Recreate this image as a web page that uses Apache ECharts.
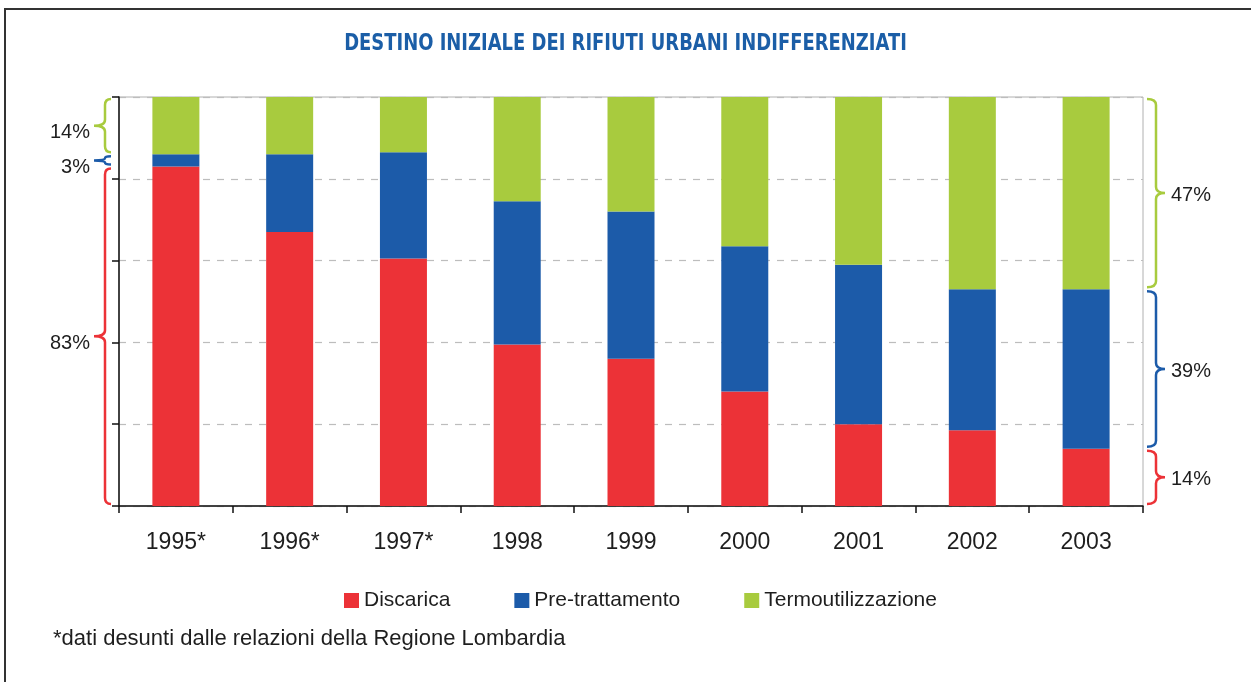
<!DOCTYPE html>
<html><head><meta charset="utf-8">
<script src="https://cdn.jsdelivr.net/npm/echarts@6/dist/echarts.min.js"></script>
<style>html,body{margin:0;padding:0;background:#fff}#c{width:1251px;height:682px}</style>
</head><body><div id="c"></div>
<script>
const titleText = 'DESTINO INIZIALE DEI RIFIUTI URBANI INDIFFERENZIATI';
const footnote = '*dati desunti dalle relazioni della Regione Lombardia';
const categories = ['1995*','1996*','1997*','1998','1999','2000','2001','2002','2003'];
const seriesNames = ['Discarica','Pre-trattamento','Termoutilizzazione'];
const discarica = [83, 67, 60.5, 39.5, 36, 28, 20, 18.5, 14];
const pretrattamento = [3, 19, 26, 35, 36, 35.5, 39, 34.5, 39];
const termo = [14, 14, 13.5, 25.5, 28, 36.5, 41, 47, 47];
const colors = ['#EC3237', '#1C5BA9', '#A8CB3E'];

const allSeries = [discarica, pretrattamento, termo];
// braces: first category on the left, last on the right
const braceData = [];
[[0, -1], [categories.length - 1, 1]].forEach(([ci, side]) => {
  let cum = 0;
  allSeries.forEach((arr, si) => {
    braceData.push([ci, cum, cum + arr[ci], side, si, arr[ci]]);
    cum += arr[ci];
  });
});

const chart = echarts.init(document.getElementById('c'), null, {renderer: 'canvas'});
const FONT = '"Liberation Sans", Arial, sans-serif';

function renderBrace(params, api) {
  const cat = api.value(0), lo = api.value(1), hi = api.value(2), side = api.value(3), si = api.value(4), v = api.value(5);
  const band = api.size([1, 0])[0];
  const cLo = api.coord([cat, lo]);
  const cHi = api.coord([cat, hi]);
  const axisX = cLo[0] + side * band / 2;
  const yB = cLo[1] - 2, yT = cHi[1] + 2;
  let xe, xs, xt;
  if (side < 0) { xe = axisX - 8; xs = axisX - 14; xt = axisX - 25; }
  else { xe = axisX + 4; xs = axisX + 13; xt = axisX + 22; }
  const ym = (yT + yB) / 2;
  const r = Math.min(6, (yB - yT) / 4);
  const d = `M${xe},${yT} Q${xs},${yT} ${xs},${yT + r} L${xs},${ym - r} Q${xs},${ym} ${xt},${ym} Q${xs},${ym} ${xs},${ym + r} L${xs},${yB - r} Q${xs},${yB} ${xe},${yB}`;
  return {
    type: 'group',
    children: [
      {type: 'path', shape: {pathData: d}, style: {stroke: colors[si], fill: null, lineWidth: 2.5}},
      {type: 'text', style: {text: Math.round(v) + '%', x: side < 0 ? xt - 4 : xt + 6, y: ym + (side < 0 ? 7 : 2),
        align: side < 0 ? 'right' : 'left', verticalAlign: 'middle', fill: '#1e1e1e', font: '20px ' + FONT}}
    ]
  };
}

const option = {
  animation: false,
  backgroundColor: '#ffffff',
  title: [
    {text: footnote, left: 48, top: 623,
     textStyle: {fontFamily: FONT, fontWeight: 'normal', fontSize: 22, color: '#1e1e1e'}}
  ],
  graphic: [
    {type: 'rect', shape: {x: 5, y: 9, width: 1400, height: 900}, style: {fill: null, stroke: '#333', lineWidth: 2}, silent: true},
    {type: 'text', x: 625.5, y: 44, scaleX: 0.78, silent: true,
     style: {text: titleText, x: 0, y: 0, align: 'center', verticalAlign: 'middle', fill: '#1B5EA7',
       font: 'bold 23px "DejaVu Sans", sans-serif'}}
  ],
  legend: {
    data: seriesNames, left: 339, top: 585, itemWidth: 15, itemHeight: 15, itemGap: 64, icon: 'rect',
    textStyle: {fontFamily: FONT, fontSize: 21, color: '#1e1e1e'}
  },
  grid: {left: 119, right: 108, top: 97, bottom: 176, show: true, borderColor: '#b0b0b0', borderWidth: 1},
  xAxis: {
    type: 'category', data: categories,
    axisLine: {lineStyle: {color: '#111', width: 1.5}},
    axisTick: {show: true, interval: 0, length: 7, lineStyle: {color: '#111', width: 1.5}},
    axisLabel: {fontFamily: FONT, fontSize: 23, color: '#1e1e1e', margin: 25}
  },
  yAxis: {
    type: 'value', min: 0, max: 100, interval: 20,
    axisLine: {show: true, lineStyle: {color: '#111', width: 1.5}},
    axisTick: {show: true, length: 7, lineStyle: {color: '#111', width: 1.5}},
    axisLabel: {show: false},
    splitLine: {show: true, lineStyle: {color: '#bdbdbd', type: [7, 7], width: 1.2}}
  },
  series: [
    {name: seriesNames[0], type: 'bar', stack: 'a', barWidth: 47, data: discarica, itemStyle: {color: colors[0]}},
    {name: seriesNames[1], type: 'bar', stack: 'a', barWidth: 47, data: pretrattamento, itemStyle: {color: colors[1]}},
    {name: seriesNames[2], type: 'bar', stack: 'a', barWidth: 47, data: termo, itemStyle: {color: colors[2]}},
    {type: 'custom', coordinateSystem: 'cartesian2d', clip: false, silent: true, z: 5,
     encode: {x: 0, y: [1, 2]}, data: braceData, renderItem: renderBrace}
  ]
};
chart.setOption(option);
</script>
</body></html>
